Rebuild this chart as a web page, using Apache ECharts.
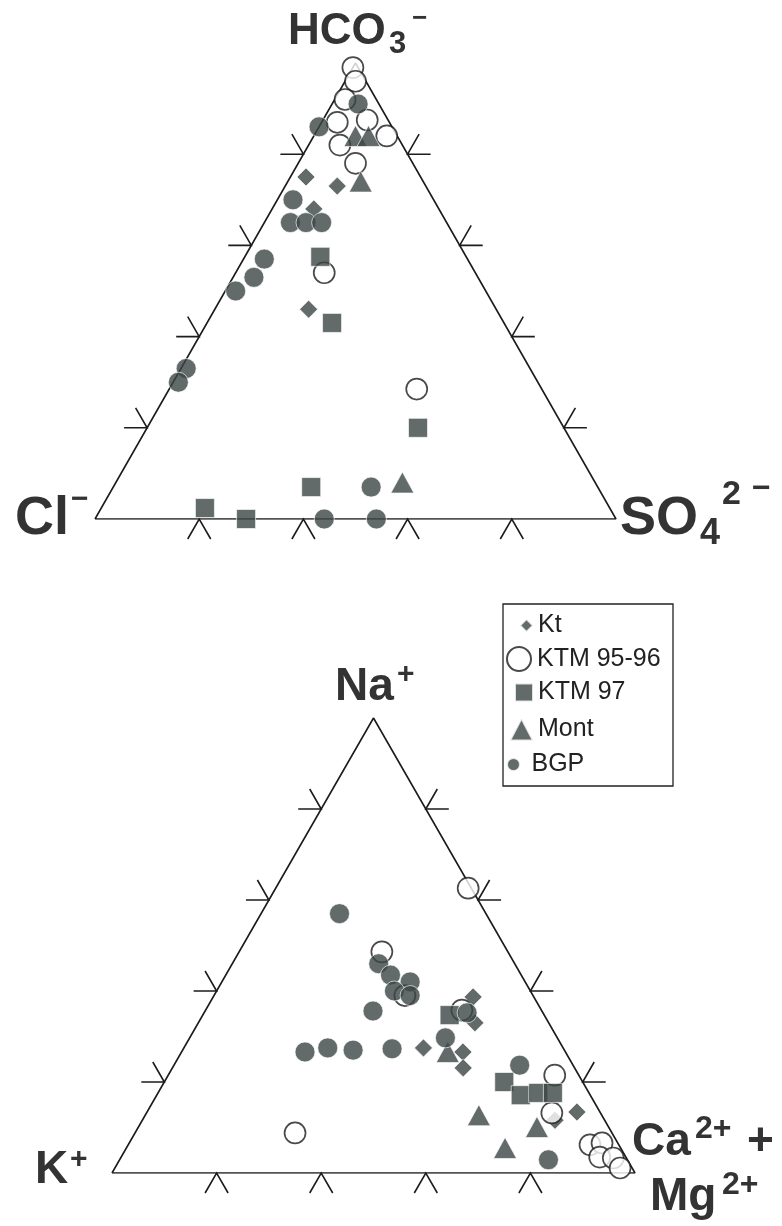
<!DOCTYPE html>
<html><head><meta charset="utf-8">
<script src="https://cdn.jsdelivr.net/npm/echarts@6/dist/echarts.min.js"></script>
<style>html,body{margin:0;padding:0;background:#fff}#c{width:782px;height:1226px}</style>
</head><body><div id="c"></div>
<script>
// ---------- DATA ----------
// Anion diagram, each point = [HCO3- %, Cl- %, SO4 2- %]
const anionKt      = [[75,22,3],[73,17,10],[68,24,8],[46,36,18]];
const anionKTM9596 = [[99,1,0],[96,2,2],[92,6,2],[87.5,4,8.5],[87,10,3],[82,12,6],[78,11,11],[84,2,14],[54,29,17],[28.5,24,47.5]];
const anionKTM97   = [[57.5,28,14.5],[43,33,24],[20,28,52],[7,55,38],[2.4,77.7,19.9],[0,71,29]];
const anionMont    = [[84,8,8],[84,5.5,10.5],[74,12,14],[8,37,55]];
const anionBGP     = [[91,4,5],[86,14,0],[70,27,3],[65,30,5],[65,27,8],[65,24,11],[57,39,4],[53,43,4],[50,48,2],[33,66,1],[30,69,1],[7,43.5,49.5],[0,56,44],[0,46,54]];
// Cation diagram, each point = [Na+ %, K+ %, Ca2+ + Mg2+ %]
const cationKt      = [[38.7,11.6,49.7],[33,14.1,52.9],[27.5,26.7,45.8],[26.6,19.6,53.8],[23.1,21.3,55.6],[13.4,4.4,82.2],[11.6,9.5,78.9]];
const cationKTM9596 = [[48.6,24.1,27.3],[39,24.5,36.5],[62.6,0.6,36.8],[35.8,15.2,49],[21.5,4.6,73.9],[13.2,9.3,77.5],[8.8,60.6,30.6],[6.2,5.5,88.3],[6.6,3,90.4],[3.5,5,91.5],[3.3,2.5,94.2],[1.1,2.3,96.6]];
const cationKTM97   = [[34.7,18.1,47.2],[20,15,65],[17.1,13.3,69.6],[17.6,9.7,72.7],[17.6,6.9,75.5]];
const cationMont    = [[26.6,22.5,50.9],[12.7,23.5,63.8],[10.1,13.7,76.2],[5.5,22.1,72.4]];
const cationBGP     = [[57,28,15],[46,26,28],[43.5,25,31.5],[42,22,36],[40,26,34],[39,23.5,37.5],[35.6,32.3,32.1],[26.6,49.8,23.6],[27.5,45,27.5],[27,40.4,32.6],[27.3,32.8,39.9],[29.7,21.4,48.9],[35.2,14.5,50.3],[23.7,10.2,66.1],[2.9,15.1,82]];
const groupNames = ['Kt','KTM 95-96','KTM 97','Mont','BGP'];
const tickFractions = [0.2,0.4,0.6,0.8];

// ---------- HELPERS ----------
// ternary [top, left, right] (%) -> cartesian in unit triangle
function toXY(p){ const t=p[0]/100, r=p[2]/100; return [r + t/2, t]; }

const FILL = '#3b4645', INK = '#1c1c1c', TXT = '#333';
const symStyles = {
  'Kt':        {symbol:'diamond',  symbolSize:18,     itemStyle:{color:FILL, borderColor:'#fff', borderWidth:0.8}},
  'KTM 95-96': {symbol:'circle',   symbolSize:21,     itemStyle:{color:'#fff', borderColor:INK, borderWidth:1.7}},
  'KTM 97':    {symbol:'rect',     symbolSize:19,     itemStyle:{color:FILL, borderColor:'#fff', borderWidth:0.8}},
  'Mont':      {symbol:'triangle', symbolSize:[23,21],itemStyle:{color:FILL, borderColor:'#fff', borderWidth:0.8}},
  'BGP':       {symbol:'circle',   symbolSize:20,     itemStyle:{color:FILL, borderColor:'#fff', borderWidth:0.8}}
};
const anionSets  = [anionKt, anionKTM9596, anionKTM97, anionMont, anionBGP];
const cationSets = [cationKt, cationKTM9596, cationKTM97, cationMont, cationBGP];

function frame(g){
  return {type:'line', xAxisIndex:g, yAxisIndex:g, data:[[0,0],[0.5,1],[1,0],[0,0]],
    symbol:'none', silent:true, z:1, lineStyle:{color:INK, width:1.6}, animation:false};
}
function ticks(g){
  const data=[];
  tickFractions.forEach(f=>{ data.push([f/2,f,0]); data.push([1-f/2,f,1]); data.push([f,0,2]); });
  return {type:'custom', xAxisIndex:g, yAxisIndex:g, data, silent:true, z:1, animation:false,
    renderItem(params, api){
      const p = api.coord([api.value(0), api.value(1)]); const k = api.value(2);
      const L=23, dx=11.5, dy=20; let pts;
      if(k===0) pts=[[p[0]-L,p[1]],[p[0],p[1]],[p[0]-dx,p[1]-dy]];
      else if(k===1) pts=[[p[0]+L,p[1]],[p[0],p[1]],[p[0]+dx,p[1]-dy]];
      else pts=[[p[0]-dx,p[1]+dy],[p[0],p[1]],[p[0]+dx,p[1]+dy]];
      return {type:'polyline', shape:{points:pts}, style:{stroke:INK, lineWidth:1.6, fill:null}};
    }};
}
function scatters(g, sets){
  return groupNames.map((n,i)=>Object.assign({type:'scatter', name:n, xAxisIndex:g, yAxisIndex:g,
    data:sets[i].map(toXY), z:3, animation:false, emphasis:{disabled:true}}, symStyles[n]));
}
function T(text, x, baseline, size){
  return {type:'text', x:x, y:baseline - 0.3465*size, z:10, silent:true,
    style:{text:text, font:'bold '+size+'px "Liberation Sans", Arial, sans-serif', fill:TXT,
      align:'left', verticalAlign:'middle', textAlign:'left', textVerticalAlign:'middle'}};
}
function legendItem(name, left, top, w, h){
  return {data:[name], left:left, top:top, orient:'vertical', padding:0, itemWidth:w, itemHeight:h,
    selectedMode:false, textStyle:{fontSize:25, fontFamily:'"Liberation Sans", Arial, sans-serif', color:'#222'}};
}

const option = {
  backgroundColor:'#fff', animation:false,
  grid:[{left:95, top:63, width:521, height:456}, {left:112, top:718, width:523, height:455}],
  xAxis:[{type:'value', gridIndex:0, min:0, max:1, show:false}, {type:'value', gridIndex:1, min:0, max:1, show:false}],
  yAxis:[{type:'value', gridIndex:0, min:0, max:1, show:false}, {type:'value', gridIndex:1, min:0, max:1, show:false}],
  legend:[
    legendItem('Kt',        519, 613, 13, 13),
    legendItem('KTM 95-96', 506, 646, 26, 24),
    legendItem('KTM 97',    514, 680, 18, 18),
    legendItem('Mont',      509, 717, 23, 22),
    legendItem('BGP',       506, 752, 26, 13)
  ],
  series:[frame(0), ticks(0), frame(1), ticks(1)].concat(scatters(0, anionSets), scatters(1, cationSets)),
  graphic:[
    {type:'rect', shape:{x:503, y:604, width:170, height:182}, style:{fill:null, stroke:'#222', lineWidth:1.3}, silent:true, z:5},
    T('HCO', 288, 47, 44), T('3', 389, 55, 31), T('\u2212', 412, 28, 26),
    T('Cl', 15, 538, 54), T('\u2212', 71, 510, 30),
    T('SO', 620, 538, 54), T('4', 700, 547, 36), T('2', 722, 506, 34), T('\u2212', 752, 500, 32),
    T('Na', 335, 703, 46), T('+', 397, 685, 30),
    T('K', 35, 1186, 46), T('+', 70, 1170, 30),
    T('Ca', 632, 1158, 46), T('2+', 695, 1140, 32), T('+', 747, 1158, 46),
    T('Mg', 650, 1213, 46), T('2+', 722, 1196, 32)
  ]
};
const chart = echarts.init(document.getElementById('c'), null, {renderer:'canvas'});
chart.setOption(option);
</script></body></html>
